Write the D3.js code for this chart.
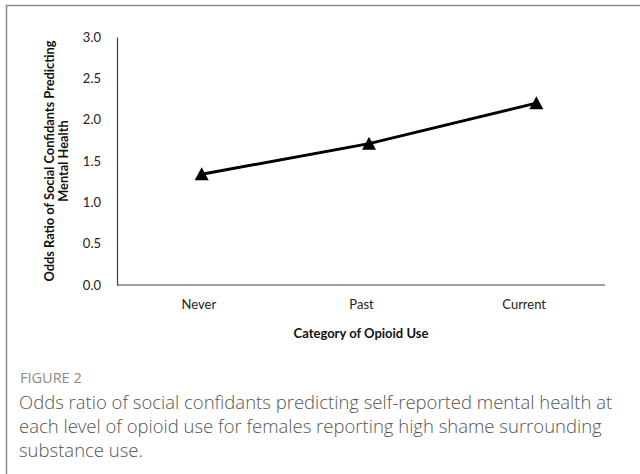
<!DOCTYPE html>
<html>
<head>
<meta charset="utf-8">
<script src="https://cdn.jsdelivr.net/npm/d3@7"></script>
<style>
  body { margin: 0; background: #fff; }
</style>
</head>
<body>
<div id="chart"></div>
<script>
const categories = ["Never", "Past", "Current"];
const oddsRatios = [1.34, 1.71, 2.20];
const yTicks = [0, 0.5, 1.0, 1.5, 2.0, 2.5, 3.0];
const yTitle = ["Odds Ratio of Social Confidants Predicting", "Mental Health"];
const xTitle = "Category of Opioid Use";
const figLabel = "FIGURE 2";
const captionLines = [
  "Odds ratio of social confidants predicting self-reported mental health at",
  "each level of opioid use for females reporting high shame surrounding",
  "substance use."
];

const W = 640, H = 474;
const plot = { left: 117, right: 605, top: 37, bottom: 285 };

const svg = d3.select("#chart").append("svg")
  .attr("width", W)
  .attr("height", H);

// frame
svg.append("path")
  .attr("d", `M6.5,${H} V5.5 H${W}`)
  .attr("fill", "none")
  .attr("stroke", "#8a8a8a")
  .attr("stroke-width", 1.5);

// category labels sit a little left of the plotted markers in the original
const x = d3.scalePoint()
  .domain(categories)
  .range([plot.left, plot.right])
  .padding(0.5);

const xData = d3.scalePoint()
  .domain(categories)
  .range([plot.left + 1, 620])
  .padding(0.5);

const y = d3.scaleLinear()
  .domain([0, 3])
  .range([plot.bottom, plot.top]);

const font = "Lato, 'Open Sans', sans-serif";

// y axis
const yAxis = svg.append("g")
  .attr("transform", `translate(${plot.left},0)`)
  .call(d3.axisLeft(y).tickValues(yTicks).tickFormat(d3.format(".1f")).tickSize(0).tickPadding(16));
yAxis.select(".domain").attr("stroke", "#404040").attr("stroke-width", 1.2);
yAxis.selectAll("text").attr("font-family", font).attr("font-size", 13).attr("fill", "#222");

// x axis
const xAxis = svg.append("g")
  .attr("transform", `translate(0,${plot.bottom})`)
  .call(d3.axisBottom(x).tickSize(0).tickPadding(15));
xAxis.select(".domain").attr("stroke", "#404040").attr("stroke-width", 1.2)
  .attr("d", `M${plot.left},0H${plot.right}`);
xAxis.selectAll("text").attr("font-family", font).attr("font-size", 13).attr("fill", "#222");

// axis titles
svg.append("text")
  .attr("x", (plot.left + plot.right) / 2)
  .attr("y", 338)
  .attr("text-anchor", "middle")
  .attr("font-family", font)
  .attr("font-weight", "bold")
  .attr("font-size", 13)
  .attr("fill", "#111")
  .text(xTitle);

const yt = svg.append("text")
  .attr("transform", `translate(54,${(plot.top + plot.bottom) / 2}) rotate(-90)`)
  .attr("text-anchor", "middle")
  .attr("font-family", font)
  .attr("font-weight", "bold")
  .attr("font-size", 12.8)
  .attr("fill", "#111");
yTitle.forEach((t, i) => {
  yt.append("tspan").attr("x", 0).attr("dy", i === 0 ? 0 : 13.5).text(t);
});

// data line
const data = categories.map((c, i) => ({ c, v: oddsRatios[i] }));
svg.append("path")
  .datum(data)
  .attr("fill", "none")
  .attr("stroke", "#000")
  .attr("stroke-width", 3)
  .attr("d", d3.line().x(d => xData(d.c)).y(d => y(d.v)));

svg.selectAll(".marker")
  .data(data)
  .enter()
  .append("path")
  .attr("class", "marker")
  .attr("transform", d => `translate(${xData(d.c)},${y(d.v)})`)
  .attr("d", "M0,-7L7,6L-7,6Z")
  .attr("fill", "#000");

// caption
svg.append("text")
  .attr("x", 20)
  .attr("y", 383)
  .attr("font-family", "'Open Sans', sans-serif")
  .attr("font-size", 14.5)
  .attr("fill", "#8a8a8a")
  .text(figLabel);

captionLines.forEach((line, i) => {
  svg.append("text")
    .attr("x", 19)
    .attr("y", 409 + i * 24)
    .attr("font-family", "'Open Sans', sans-serif")
    .attr("font-weight", 300)
    .attr("font-size", 18.5)
    .attr("fill", "#555")
    .text(line);
});
</script>
</body>
</html>
